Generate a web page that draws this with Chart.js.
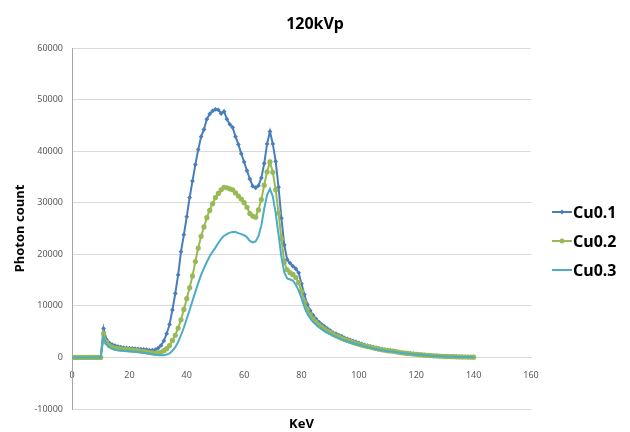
<!DOCTYPE html>
<html>
<head>
<meta charset="utf-8">
<script src="https://cdn.jsdelivr.net/npm/chart.js@4/dist/chart.umd.min.js"></script>
<style>
  html, body { margin: 0; padding: 0; background: #fff; }
  #wrap { width: 630px; height: 432px; }
</style>
</head>
<body>
<div id="wrap"><canvas id="spectrum"></canvas></div>
<script>
// energy bins (keV)
const kev = [
  0, 1, 2, 3, 4, 5, 6, 7, 8, 9, 10, 11, 12, 13, 14, 15, 16, 17, 18, 19,
  20, 21, 22, 23, 24, 25, 26, 27, 28, 29, 30, 31, 32, 33, 34, 35, 36, 37, 38, 39,
  40, 41, 42, 43, 44, 45, 46, 47, 48, 49, 50, 51, 52, 53, 54, 55, 56, 57, 58, 59,
  60, 61, 62, 63, 64, 65, 66, 67, 68, 69, 70, 71, 72, 73, 74, 75, 76, 77, 78, 79,
  80, 81, 82, 83, 84, 85, 86, 87, 88, 89, 90, 91, 92, 93, 94, 95, 96, 97, 98, 99,
  100, 101, 102, 103, 104, 105, 106, 107, 108, 109, 110, 111, 112, 113, 114, 115, 116, 117, 118, 119,
  120, 121, 122, 123, 124, 125, 126, 127, 128, 129, 130, 131, 132, 133, 134, 135, 136, 137, 138, 139,
  140
];

const cu01 = [
  0, 0, 0, 0, 0, 0, 0, 0, 0, 0,
  0, 5600, 3500, 2800, 2500, 2300, 2100, 2000, 1900, 1850,
  1800, 1750, 1700, 1650, 1600, 1550, 1500, 1400, 1400, 1500,
  1800, 2300, 3200, 4600, 6400, 9200, 12400, 16000, 20500, 23800,
  27300, 31000, 34200, 37400, 40300, 42800, 44200, 46200, 47200, 47800,
  48100, 48000, 47300, 47700, 46200, 45200, 44600, 42800, 41300, 39500,
  37900, 36200, 34600, 33200, 32900, 33300, 34800, 37600, 41400, 43800,
  41400, 38000, 33000, 27000, 21800, 19000, 18300, 17700, 17200, 16400,
  14300, 12200, 10300, 9100, 8200, 7500, 6900, 6400, 6000, 5600,
  5200, 4800, 4600, 4300, 4100, 3800, 3600, 3400, 3200, 3000,
  2800, 2600, 2450, 2300, 2150, 2000, 1900, 1750, 1650, 1500,
  1400, 1350, 1300, 1150, 1050, 950, 900, 820, 760, 700,
  650, 580, 520, 470, 420, 380, 340, 300, 270, 240,
  210, 190, 170, 150, 130, 110, 100, 90, 80, 70,
  60
];

const cu02 = [
  0, 0, 0, 0, 0, 0, 0, 0, 0, 0,
  0, 4600, 2900, 2300, 2000, 1800, 1700, 1600, 1550, 1500,
  1450, 1400, 1350, 1300, 1200, 1150, 1050, 950, 900, 850,
  900, 1000, 1300, 1700, 2300, 3300, 4300, 5700, 7300, 9300,
  11400, 13500, 15800, 18600, 21200, 23500, 25300, 27100, 28500, 29800,
  31000, 31800, 32500, 33000, 32900, 32700, 32500, 31900, 31300, 30700,
  30000, 29100, 27900, 27400, 27200, 28600, 30600, 33400, 36000, 37900,
  35900, 32500, 28000, 23000, 18500, 17000, 16400, 16100, 15500, 14500,
  12800, 10800, 9300, 8300, 7500, 6900, 6300, 5900, 5500, 5100,
  4800, 4500, 4200, 4000, 3700, 3500, 3300, 3100, 2900, 2700,
  2550, 2400, 2250, 2100, 2000, 1850, 1750, 1600, 1500, 1400,
  1300, 1250, 1200, 1080, 990, 900, 840, 770, 710, 650,
  600, 540, 490, 440, 400, 360, 320, 290, 260, 230,
  200, 180, 160, 140, 120, 105, 95, 85, 75, 65,
  55
];

const cu03 = [
  0, 0, 0, 0, 0, 0, 0, 0, 0, 0,
  0, 3900, 2500, 2000, 1700, 1500, 1400, 1350, 1300, 1250,
  1200, 1150, 1100, 1050, 1000, 900, 800, 700, 600, 500,
  450, 400, 420, 550, 800, 1300, 2000, 3000, 4300, 5800,
  7500, 9200, 11000, 12700, 14400, 16000, 17300, 18500, 19600, 20500,
  21300, 22200, 23000, 23600, 23900, 24200, 24300, 24300, 24100, 23900,
  23700, 23300, 22600, 22300, 22500, 23500, 25600, 28800, 31500, 32700,
  31200, 28000, 23800, 19500, 16500, 15300, 15100, 14900, 14100, 13000,
  11500, 9800, 8500, 7600, 6900, 6400, 5900, 5500, 5100, 4800,
  4500, 4200, 4000, 3700, 3500, 3300, 3100, 2900, 2750, 2600,
  2450, 2300, 2150, 2000, 1900, 1750, 1650, 1500, 1400, 1300,
  1200, 1150, 1100, 1000, 920, 840, 780, 720, 660, 600,
  560, 500, 450, 410, 370, 330, 300, 270, 240, 210,
  190, 170, 150, 130, 110, 100, 90, 80, 70, 60,
  50
];

const seriesNames = ['Cu0.1', 'Cu0.2', 'Cu0.3'];
const yTicks = [-10000, 0, 10000, 20000, 30000, 40000, 50000, 60000];
const xTicks = [0, 20, 40, 60, 80, 100, 120, 140, 160];

const FONT = "'Noto Sans', 'DejaVu Sans', sans-serif";
const colors = ['#4a7ebb', '#98b954', '#4bacc6'];

// title, x title and legend drawn by hand so they sit where Excel put them
const excelBits = {
  id: 'excelBits',
  afterDraw(chart) {
    const c = chart.ctx;
    const area = chart.chartArea;
    c.save();
    c.fillStyle = '#000';
    c.textAlign = 'center';
    c.textBaseline = 'middle';
    c.font = 'bold 16px ' + FONT;
    c.fillText('120kVp', 315, 24);
    c.font = 'bold 13px ' + FONT;
    c.fillText('KeV', (area.left + area.right) / 2, 424);

    const rows = [212, 241, 270];
    chart.data.datasets.forEach((ds, i) => {
      const y = rows[i];
      c.strokeStyle = ds.borderColor;
      c.lineWidth = 2;
      c.beginPath();
      c.moveTo(552, y);
      c.lineTo(572, y);
      c.stroke();
      if (ds.pointRadius > 0) {
        c.fillStyle = ds.borderColor;
        c.beginPath();
        if (ds.pointStyle === 'rectRot') {
          c.moveTo(562, y - 2.5); c.lineTo(564.5, y); c.lineTo(562, y + 2.5); c.lineTo(559.5, y);
        } else {
          c.arc(562, y, 2.5, 0, Math.PI * 2);
        }
        c.fill();
      }
      c.fillStyle = '#000';
      c.font = 'bold 16px ' + FONT;
      c.textAlign = 'left';
      c.fillText(ds.label, 573, y + 1);
    });
    c.restore();
  }
};

new Chart(document.getElementById('spectrum'), {
  type: 'line',
  data: {
    labels: kev,
    datasets: [
      {
        label: seriesNames[0], data: cu01, borderColor: colors[0], backgroundColor: colors[0],
        borderWidth: 2, pointStyle: 'rectRot', pointRadius: 2.4, pointBorderWidth: 0, order: 2
      },
      {
        label: seriesNames[1], data: cu02, borderColor: colors[1], backgroundColor: colors[1],
        borderWidth: 2, pointStyle: 'circle', pointRadius: 2.6, pointBorderWidth: 0, order: 1
      },
      {
        label: seriesNames[2], data: cu03, borderColor: colors[2], backgroundColor: colors[2],
        borderWidth: 2, pointRadius: 0, order: 0
      }
    ]
  },
  options: {
    responsive: true,
    maintainAspectRatio: false,
    animation: false,
    layout: { padding: { left: 0, right: 99, top: 48, bottom: 23 } },
    scales: {
      x: {
        type: 'linear',
        position: { y: 0 },
        min: 0, max: 160,
        afterBuildTicks: s => { s.ticks = xTicks.map(v => ({ value: v })); },
        grid: { display: false },
        border: { display: true, color: '#d9d9d9' },
        ticks: {
          color: '#595959', font: { family: FONT, size: 9 }, padding: 5, maxRotation: 0,
          callback: v => String(v)
        }
      },
      y: {
        min: -10000, max: 60000,
        afterBuildTicks: s => { s.ticks = yTicks.map(v => ({ value: v })); },
        afterFit: s => { s.width = 72; },
        grid: { color: '#d9d9d9', drawTicks: false },
        border: { color: '#a6a6a6' },
        ticks: {
          color: '#595959', font: { family: FONT, size: 9 }, padding: 9,
          callback: v => String(v)
        },
        title: {
          display: true, text: 'Photon count', color: '#000',
          font: { family: FONT, size: 13, weight: 'bold' }, padding: { top: 12, bottom: 0 }
        }
      }
    },
    plugins: {
      legend: { display: false },
      tooltip: { enabled: false }
    }
  },
  plugins: [excelBits]
});
</script>
</body>
</html>
